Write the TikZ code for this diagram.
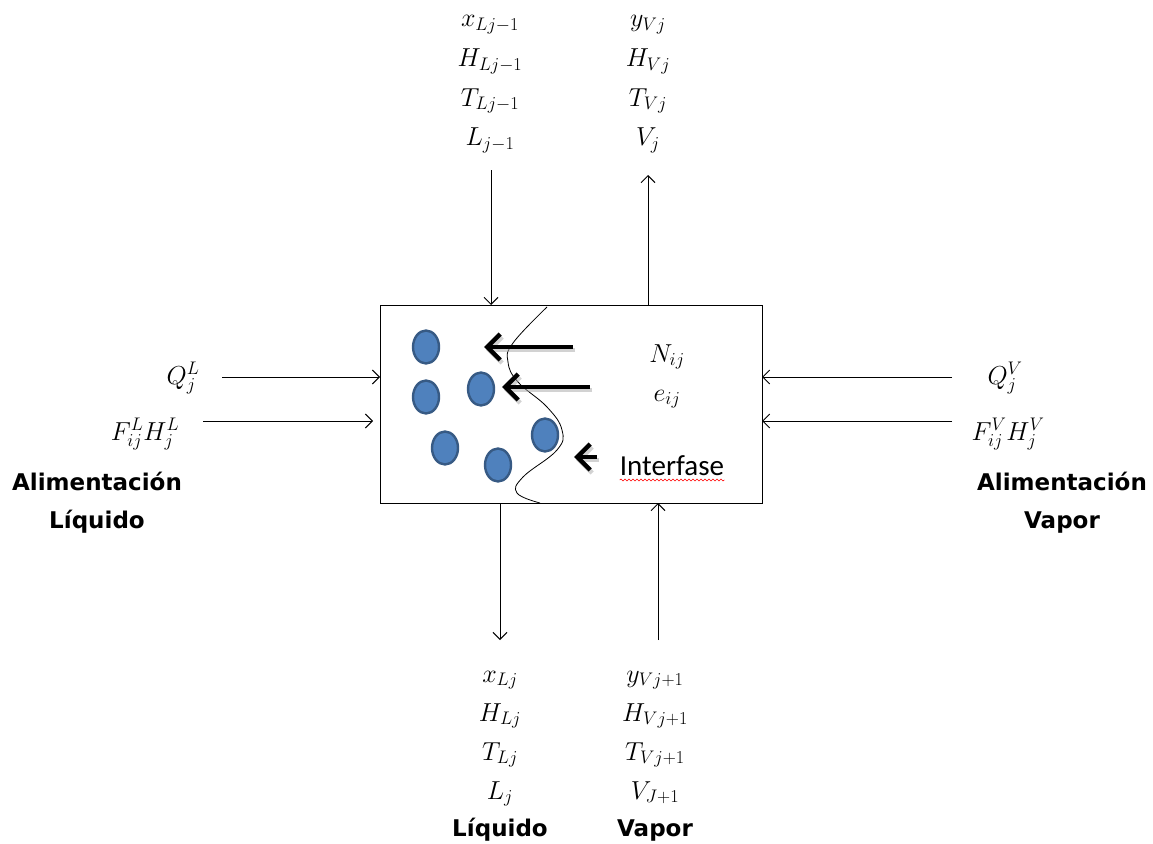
\RequirePackage{fix-cm}
\documentclass[tikz,border=0pt]{standalone}
\usepackage{fontspec}
\newfontfamily\labfont{DejaVu Sans}
\newfontfamily\intfont{Carlito}
\usetikzlibrary{arrows.meta,decorations.pathmorphing}
\begin{document}
\begin{tikzpicture}[x=1pt,y=-1pt,
  mathlbl/.style={anchor=base,inner sep=0pt,font=\fontsize{26}{30}\selectfont},
  boldlbl/.style={anchor=base,inner sep=0pt,font=\labfont\bfseries\fontsize{23}{26}\selectfont},
  flow/.style={line width=1pt,-{Straight Barb[length=7pt,width=14pt,line width=1pt]}},
  big/.style={line width=4.5pt,-{Straight Barb[length=13pt,width=26pt,line width=4.5pt]}},
  bigshadow/.style={big,draw=black!35,opacity=0.5}
]
\definecolor{blob}{HTML}{4F81BD}
\useasboundingbox (0,0) rectangle (1153,843);

% main box
\node[draw,line width=1.2pt,minimum width=382pt,minimum height=198pt,anchor=north west,inner sep=0pt] (box) at (380,305) {};

% droplets
\foreach \x/\y [count=\i] in {426/347,426/397,481/389,445/448,498/465,545/435}
  \draw[draw=blob!70!black,fill=blob,line width=2.4pt] (\x,\y) ellipse (13pt and 16.5pt);

% interface curve
\draw[line width=0.8pt] plot[smooth,tension=0.7] coordinates
  {(547,307) (513,343) (508,362) (518,382) (547,407) (562,430) (557,450) (523,477) (517,493) (540,503)};

% thick arrows with shadows
\coordinate (a1t) at (573,347); \coordinate (a1h) at (484,347);
\coordinate (a2t) at (590,387); \coordinate (a2h) at (502,387);
\coordinate (a3t) at (597,457); \coordinate (a3h) at (574,457);
\foreach \p in {1,2,3}{
  \draw[bigshadow] ([shift={(2,3)}]a\p t) -- ([shift={(2,3)}]a\p h);
  \draw[big] (a\p t) -- (a\p h);
}

% inner labels
\node[mathlbl] (N) at (667,362) {$N_{ij}$};
\node[mathlbl] (e) at (667,401) {$e_{ij}$};
\node[anchor=base,inner sep=0pt,font=\intfont\fontsize{29}{32}\selectfont] (int) at (672,475) {Interfase};
\draw[red,line width=0.6pt,decorate,decoration={snake,amplitude=1pt,segment length=4pt}]
  ([yshift=-5pt]int.base west) -- ([yshift=-5pt]int.base east);

% top-left stack
\foreach \t [count=\i] in {{x_{Lj-1}},{H_{Lj-1}},{T_{Lj-1}},{L_{j-1}}}
  \node[mathlbl] (tl\i) at (490,27+39.5*\i-39.5) {$\t$};
% top-right stack
\foreach \t [count=\i] in {{y_{Vj}},{H_{Vj}},{T_{Vj}},{V_j}}
  \node[mathlbl] (tr\i) at (648,27+39.5*\i-39.5) {$\t$};
% bottom-left stack
\foreach \t [count=\i] in {{x_{Lj}},{H_{Lj}},{T_{Lj}},{L_j}}
  \node[mathlbl] (bl\i) at (500,682+39*\i-39) {$\t$};
\node[boldlbl] (bl5) at (500,836) {Líquido};
% bottom-right stack
\foreach \t [count=\i] in {{y_{Vj+1}},{H_{Vj+1}},{T_{Vj+1}},{V_{J+1}}}
  \node[mathlbl] (br\i) at (655,682+39*\i-39) {$\t$};
\node[boldlbl] (br5) at (655,836) {Vapor};

% left labels
\node[mathlbl] (QL) at (183,384) {$Q_j^L$};
\node[mathlbl] (FL) at (145,440) {$F_{ij}^L H_j^L$};
\node[boldlbl] (AL1) at (97,490) {Alimentación};
\node[boldlbl] (AL2) at (97,528) {Líquido};
% right labels
\node[mathlbl] (QV) at (1005,384) {$Q_j^V$};
\node[mathlbl] (FV) at (1008,440) {$F_{ij}^V H_j^V$};
\node[boldlbl] (AV1) at (1062,490) {Alimentación};
\node[boldlbl] (AV2) at (1062,528) {Vapor};

% connector endpoints
\coordinate (tlS) at (491,170);  \coordinate (tlE) at (491,305);
\coordinate (trS) at (648,305);  \coordinate (trE) at (648,175);
\coordinate (blS) at (500,503);  \coordinate (blE) at (500,640);
\coordinate (brS) at (658,640);  \coordinate (brE) at (658,503);
\coordinate (qlS) at (222,377);  \coordinate (qlE) at (380,377);
\coordinate (flS) at (203,421);  \coordinate (flE) at (373,421);
\coordinate (qvS) at (952,377);  \coordinate (qvE) at (762,377);
\coordinate (fvS) at (952,421);  \coordinate (fvE) at (762,421);

\foreach \c in {tl,tr,bl,br,ql,fl,qv,fv}
  \draw[flow] (\c S) -- (\c E);
\end{tikzpicture}
\end{document}
